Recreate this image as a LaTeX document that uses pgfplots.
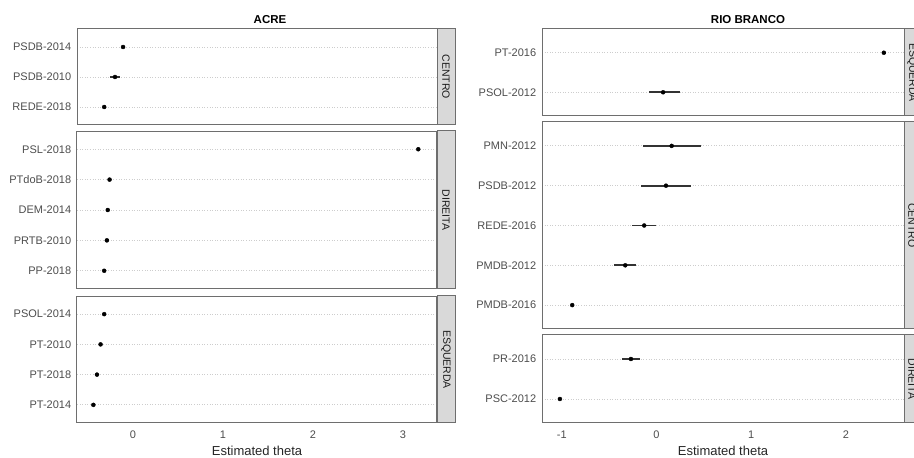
\documentclass[border=0pt]{standalone}
\usepackage{fontspec}
\setmainfont{Liberation Sans}
\usepackage{pgfplots}
\pgfplotsset{compat=1.18}
\usepackage{pgfplotstable}

\definecolor{panelborder}{HTML}{6E6E6E}
\definecolor{stripfill}{HTML}{D9D9D9}
\definecolor{ticktext}{HTML}{4D4D4D}
\definecolor{gridc}{HTML}{CDCDCD}
\definecolor{barc}{HTML}{333333}
\definecolor{striptext}{HTML}{1A1A1A}

% ---------------- data ----------------
\pgfplotstableread{
x y em ep
-0.32 1 0 0
-0.20 2 0.05 0.06
-0.11 3 0 0
}\acrecentro
\pgfplotstableread{
x y em ep
-0.32 1 0 0
-0.29 2 0.02 0.02
-0.28 3 0 0
-0.26 4 0 0
3.17 5 0 0
}\acredireita
\pgfplotstableread{
x y em ep
-0.44 1 0 0
-0.40 2 0 0
-0.36 3 0 0
-0.32 4 0 0
}\acreesquerda
\pgfplotstableread{
x y em ep
0.07 1 0.15 0.18
2.40 2 0.02 0.02
}\rbesquerda
\pgfplotstableread{
x y em ep
-0.89 1 0 0
-0.33 2 0.12 0.11
-0.13 3 0.13 0.12
0.10 4 0.26 0.26
0.16 5 0.30 0.31
}\rbcentro
\pgfplotstableread{
x y em ep
-1.02 1 0 0
-0.27 2 0.09 0.10
}\rbdireita

\pgfplotsset{
  facet/.style={
    scale only axis,
    axis line style={draw=panelborder, line width=1pt},
    major tick length=0pt,
    ymajorgrids,
    y grid style={gridc, line width=0.9pt, dash pattern=on 1pt off 1.6pt},
    tick label style={font=\fontsize{11}{13}\selectfont, text=ticktext},
    yticklabel style={xshift=-2.3pt},
    xticklabel style={yshift=-4.5pt},
  },
  leftcol/.style={facet, xmin=-0.622, xmax=3.378, width=360pt, xtick={0,1,2,3}, xticklabels={0,1,2,3}},
  rightcol/.style={facet, xmin=-1.209, xmax=2.613, width=362pt, xtick={-1,0,1,2}, xticklabels={-1,0,1,2}},
  nox/.style={xticklabels={}},
  est/.style={only marks, mark=*, mark size=2pt, mark options={draw=black, fill=black},
    error bars/.cd, x dir=both, x explicit, error mark=none,
    error bar style={line width=1.8pt, draw=barc}},
}

\begin{document}
\begin{tikzpicture}
\useasboundingbox (0,0) rectangle (914pt,458pt);
\clip (0,0) rectangle (914pt,458pt);

% ---------------- ACRE ----------------
\begin{axis}[leftcol, nox, at={(77pt,333pt)}, anchor=south west, height=96pt,
  ymin=0.4, ymax=3.6, ytick={1,2,3}, yticklabels={REDE-2018,PSDB-2010,PSDB-2014}]
\addplot[est] table[x=x, y=y, x error plus=ep, x error minus=em] {\acrecentro};
\end{axis}
\begin{axis}[leftcol, nox, at={(77pt,169pt)}, anchor=south west, height=158pt,
  ymin=0.4, ymax=5.6, ytick={1,2,3,4,5}, yticklabels={PP-2018,PRTB-2010,DEM-2014,PTdoB-2018,PSL-2018}]
\addplot[est] table[x=x, y=y, x error plus=ep, x error minus=em] {\acredireita};
\end{axis}
\begin{axis}[leftcol, at={(77pt,35pt)}, anchor=south west, height=127pt,
  ymin=0.4, ymax=4.6, ytick={1,2,3,4}, yticklabels={PT-2014,PT-2018,PT-2010,PSOL-2014}]
\addplot[est] table[x=x, y=y, x error plus=ep, x error minus=em] {\acreesquerda};
\end{axis}

% ---------------- RIO BRANCO ----------------
\begin{axis}[rightcol, nox, at={(542pt,342pt)}, anchor=south west, height=87pt,
  ymin=0.4, ymax=2.6, ytick={1,2}, yticklabels={PSOL-2012,PT-2016}]
\addplot[est] table[x=x, y=y, x error plus=ep, x error minus=em] {\rbesquerda};
\end{axis}
\begin{axis}[rightcol, nox, at={(542pt,129pt)}, anchor=south west, height=207pt,
  ymin=0.4, ymax=5.6, ytick={1,2,3,4,5}, yticklabels={PMDB-2016,PMDB-2012,REDE-2016,PSDB-2012,PMN-2012}]
\addplot[est] table[x=x, y=y, x error plus=ep, x error minus=em] {\rbcentro};
\end{axis}
\begin{axis}[rightcol, at={(542pt,35pt)}, anchor=south west, height=88pt,
  ymin=0.4, ymax=2.6, ytick={1,2}, yticklabels={PSC-2012,PR-2016}]
\addplot[est] table[x=x, y=y, x error plus=ep, x error minus=em] {\rbdireita};
\end{axis}

% ---------------- strips ----------------
\tikzset{strip/.style={fill=stripfill, draw=panelborder, line width=1pt},
         striplab/.style={rotate=-90, font=\fontsize{10.5}{12}\selectfont, text=striptext}}
\draw[strip] (437pt,333pt) rectangle (455pt,429pt);
\node[striplab] at (446pt,381pt) {CENTRO};
\draw[strip] (437pt,169pt) rectangle (455pt,327pt);
\node[striplab] at (446pt,248pt) {DIREITA};
\draw[strip] (437pt,35pt) rectangle (455pt,162pt);
\node[striplab] at (446pt,98.5pt) {ESQUERDA};

\draw[strip] (904pt,342pt) rectangle (922pt,429pt);
\node[striplab] at (912pt,385.5pt) {ESQUERDA};
\draw[strip] (904pt,129pt) rectangle (922pt,336pt);
\node[striplab] at (912pt,232.5pt) {CENTRO};
\draw[strip] (904pt,35pt) rectangle (922pt,123pt);
\node[striplab] at (912pt,79pt) {DIREITA};

% ---------------- titles ----------------
\node[font=\bfseries\fontsize{11.5}{13}\selectfont] at (270pt,438pt) {ACRE};
\node[font=\bfseries\fontsize{11.5}{13}\selectfont] at (748pt,438pt) {RIO BRANCO};
\node[font=\fontsize{13}{15}\selectfont, text=black!85] at (257pt,7pt) {Estimated theta};
\node[font=\fontsize{13}{15}\selectfont, text=black!85] at (723pt,7pt) {Estimated theta};
\end{tikzpicture}
\end{document}
